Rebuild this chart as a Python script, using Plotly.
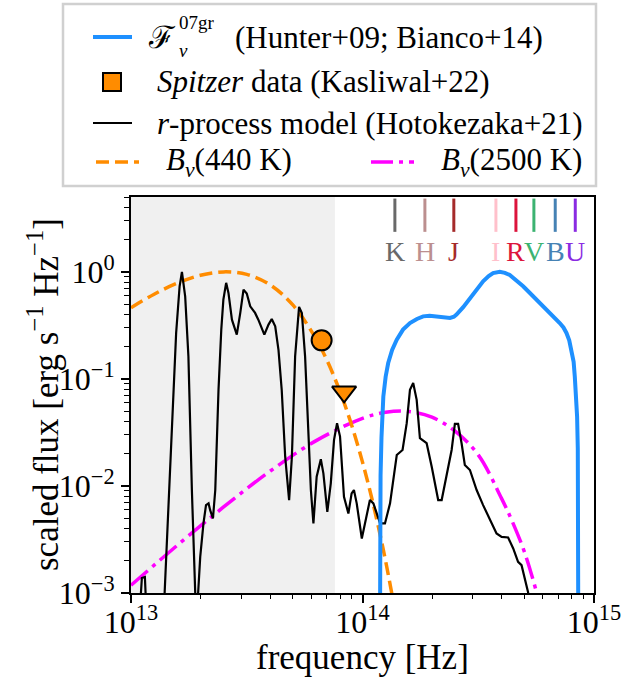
import numpy as np
import plotly.graph_objects as go

# ---------------- data ----------------
# r-process model (Hotokezaka+21): log10 frequency [Hz], log10 scaled flux
rproc_log_nu = [13.000, 13.034, 13.047, 13.060, 13.069, 13.100, 13.135, 13.155, 13.177, 13.195,
                13.210, 13.220, 13.234, 13.248, 13.263, 13.282, 13.299, 13.313, 13.324, 13.335,
                13.342, 13.354, 13.364, 13.378, 13.390, 13.399, 13.411, 13.421, 13.436, 13.457,
                13.472, 13.486, 13.500, 13.515, 13.536, 13.550, 13.576, 13.594, 13.608, 13.623,
                13.637, 13.651, 13.666, 13.683, 13.695, 13.709, 13.726, 13.738, 13.752, 13.766,
                13.777, 13.788, 13.802, 13.820, 13.831, 13.848, 13.863, 13.877, 13.890, 13.903,
                13.920, 13.939, 13.953, 13.963, 13.975, 13.997, 14.018, 14.032, 14.047, 14.076,
                14.097, 14.119, 14.148, 14.173, 14.191, 14.205, 14.219, 14.234, 14.248, 14.277,
                14.299, 14.327, 14.342, 14.363, 14.385, 14.399, 14.413, 14.428, 14.442, 14.464,
                14.493, 14.521, 14.550, 14.579, 14.601, 14.629, 14.651, 14.672, 14.687, 14.715,
                14.740]
rproc_log_flux = [-3.80, -3.30, -2.86, -2.85, -3.30, -3.80, -3.50, -2.507, -1.414, -0.571,
                  -0.135, 0.000, -0.228, -0.790, -2.038, -3.30, -2.663, -2.350, -2.179, -2.163,
                  -2.226, -2.303, -2.038, -1.102, -0.540, -0.259, -0.103, -0.197, -0.447, -0.587,
                  -0.384, -0.166, -0.203, -0.322, -0.384, -0.447, -0.587, -0.493, -0.440, -0.509,
                  -0.728, -1.102, -1.727, -2.132, -1.727, -0.790, -0.328, -0.384, -0.790, -1.414,
                  -2.038, -2.350, -1.914, -1.751, -1.882, -2.242, -1.976, -1.570, -1.414, -1.539,
                  -2.101, -2.257, -2.069, -2.038, -2.163, -2.491, -2.257, -2.132, -2.163, -2.350,
                  -2.350, -2.163, -1.711, -1.664, -1.414, -1.102, -1.039, -1.196, -1.554, -1.601,
                  -1.820, -2.132, -2.132, -1.914, -1.664, -1.420, -1.420, -1.601, -1.804, -1.851,
                  -2.038, -2.179, -2.320, -2.444, -2.476, -2.481, -2.584, -2.709, -2.740, -2.991,
                  -3.300]

# F_nu of SN 2007gr (Hunter+09; Bianco+14): log10 frequency, log10 scaled flux
gr07_log_nu = [14.0745, 14.076, 14.078, 14.082, 14.090, 14.100, 14.111, 14.128, 14.148, 14.175,
               14.205, 14.235, 14.262, 14.290, 14.320, 14.350, 14.378, 14.395, 14.406, 14.435,
               14.464, 14.493, 14.521, 14.545, 14.564, 14.593, 14.615, 14.636, 14.665, 14.694,
               14.722, 14.752, 14.780, 14.809, 14.835, 14.852, 14.868, 14.881, 14.893, 14.903,
               14.912, 14.917, 14.923, 14.927, 14.930, 14.931, 14.932, 14.933]
gr07_log_flux = [-4.00, -2.50, -1.90, -1.55, -1.165, -0.98, -0.852, -0.73, -0.634, -0.54,
                 -0.478, -0.44, -0.416, -0.41, -0.416, -0.425, -0.431, -0.42, -0.400, -0.33,
                 -0.243, -0.16, -0.088, -0.04, -0.012, 0.000, -0.01, -0.03, -0.08, -0.135,
                 -0.195, -0.259, -0.32, -0.384, -0.43, -0.478, -0.52, -0.571, -0.64, -0.727,
                 -0.84, -0.978, -1.15, -1.352, -1.65, -1.973, -2.50, -4.00]

# Blackbody B_nu(440 K), scaled to peak 1
bb440_log_nu = [13.0, 13.1, 13.2, 13.3, 13.4, 13.5, 13.6, 13.7, 13.8, 13.85,
                13.9, 13.95, 14.0, 14.05, 14.1, 14.15]
bb440_flux = [0.462, 0.618, 0.785, 0.928, 0.999, 0.947, 0.759, 0.488, 0.235, 0.1435,
              0.0790, 0.0388, 0.0167, 0.00624, 0.00198, 0.00052]

# Blackbody B_nu(2500 K), scaled to peak 0.05
bb2500_log_nu = [13.0, 13.2, 13.4, 13.6, 13.8, 14.0, 14.1, 14.2, 14.3, 14.4,
                 14.5, 14.6, 14.65, 14.7, 14.75, 14.8]
bb2500_flux = [0.00118, 0.00279, 0.00636, 0.0137, 0.0265, 0.0428, 0.0487, 0.0496, 0.0439, 0.0325,
               0.0195, 0.0077, 0.0045, 0.0024, 0.00105, 0.0004]

# Spitzer data (Kasliwal+22)
spitzer_nu = [6.66e13]          # 4.5 micron detection
spitzer_flux = [0.229]
spitzer_lim_nu = [8.33e13]      # 3.6 micron upper limit
spitzer_lim_flux = [0.0757]

# Photometric bands
band_names = ["K", "H", "J", "I", "R", "V", "B", "U"]
band_nu = [1.38e14, 1.86e14, 2.48e14, 3.77e14, 4.6e14, 5.5e14, 6.8e14, 8.3e14]
band_colors = ["#696969", "#bc8f8f", "#a52a2a", "#ffc0cb", "#dc143c", "#3cb371", "#4682b4", "#8a2be2"]

shade_nu = [1e13, 7.6e13]   # shaded Spitzer range

# ---------------- figure ----------------
FONT = "Liberation Serif, DejaVu Serif, serif"
FS_TICK = 32
FS_LEG = 31
FS_TITLE = 35
W, H = 629, 678
ML, MR, MT, MB = 131, 35, 197, 85
PW, PH = W - ML - MR, H - MT - MB


def pxx(x):
    return (x - ML) / PW


def pxy(y):
    return (H - MB - y) / PH


def tenpow(a):
    return [10.0 ** v for v in a]


fig = go.Figure()

fig.add_trace(go.Scatter(x=tenpow(bb2500_log_nu), y=bb2500_flux, mode="lines",
                         line=dict(color="#ff00ff", width=3.5, dash="22px,6px,4px,6px", shape="spline"),
                         showlegend=False, name="B_nu(2500 K)"))
fig.add_trace(go.Scatter(x=tenpow(bb440_log_nu), y=bb440_flux, mode="lines",
                         line=dict(color="#ff8c00", width=3.5, dash="13px,6px", shape="spline"),
                         showlegend=False, name="B_nu(440 K)"))
fig.add_trace(go.Scatter(x=tenpow(rproc_log_nu), y=tenpow(rproc_log_flux), mode="lines",
                         line=dict(color="black", width=2.2),
                         showlegend=False, name="r-process model"))
fig.add_trace(go.Scatter(x=tenpow(gr07_log_nu), y=tenpow(gr07_log_flux), mode="lines",
                         line=dict(color="#1e90ff", width=4),
                         showlegend=False, name="07gr"))
fig.add_trace(go.Scatter(x=spitzer_nu, y=spitzer_flux, mode="markers",
                         marker=dict(symbol="circle", size=20, color="#ff8c00",
                                     line=dict(color="black", width=2)),
                         showlegend=False, name="Spitzer", cliponaxis=False))
fig.add_trace(go.Scatter(x=spitzer_lim_nu, y=spitzer_lim_flux, mode="markers",
                         marker=dict(symbol="triangle-down", size=21, color="#ff8c00",
                                     line=dict(color="black", width=2)),
                         showlegend=False, name="Spitzer limit", cliponaxis=False))

shapes = []
annotations = []

# shaded region
shapes.append(dict(type="rect", xref="x", yref="y domain", x0=shade_nu[0], x1=shade_nu[1],
                   y0=0, y1=1, fillcolor="#f0f0f0", line=dict(width=0), layer="below"))

# band markers
for name, nu, col in zip(band_names, band_nu, band_colors):
    shapes.append(dict(type="line", xref="x", yref="y domain", x0=nu, x1=nu,
                       y0=0.912, y1=0.996, line=dict(color=col, width=3)))
    annotations.append(dict(x=np.log10(nu), xref="x", y=0.862, yref="y domain",
                            text=name, showarrow=False, xanchor="center", yanchor="middle",
                            font=dict(family=FONT, size=28, color=col)))

# ---- custom legend ----
shapes.append(dict(type="rect", xref="paper", yref="paper", x0=pxx(63), x1=pxx(596),
                   y0=pxy(186), y1=pxy(4), line=dict(color="#d0d0d0", width=2.5),
                   fillcolor="white", layer="above"))
row_y = [37, 82, 123, 162]
shapes.append(dict(type="line", xref="paper", yref="paper", x0=pxx(93), x1=pxx(132),
                   y0=pxy(row_y[0]), y1=pxy(row_y[0]), line=dict(color="#1e90ff", width=4)))
shapes.append(dict(type="rect", xref="paper", yref="paper", x0=pxx(103), x1=pxx(121),
                   y0=pxy(row_y[1] + 9), y1=pxy(row_y[1] - 9), fillcolor="#ff8c00",
                   line=dict(color="black", width=2)))
shapes.append(dict(type="line", xref="paper", yref="paper", x0=pxx(93), x1=pxx(132),
                   y0=pxy(row_y[2]), y1=pxy(row_y[2]), line=dict(color="black", width=2)))
shapes.append(dict(type="line", xref="paper", yref="paper", x0=pxx(96), x1=pxx(139),
                   y0=pxy(row_y[3]), y1=pxy(row_y[3]),
                   line=dict(color="#ff8c00", width=3.5, dash="13px,6px")))
shapes.append(dict(type="line", xref="paper", yref="paper", x0=pxx(371), x1=pxx(414),
                   y0=pxy(row_y[3]), y1=pxy(row_y[3]),
                   line=dict(color="#ff00ff", width=3.5, dash="22px,6px,4px,6px")))


def leg_text(x, y, text, size=FS_LEG):
    annotations.append(dict(x=pxx(x), y=pxy(y), xref="paper", yref="paper", text=text,
                            showarrow=False, xanchor="left", yanchor="middle",
                            borderpad=0,
                            font=dict(family=FONT, size=size, color="black")))


leg_text(147, row_y[0] + 1, "ℱ")
leg_text(178, row_y[0] + 14, "<i>ν</i>", size=19)
leg_text(178, row_y[0] - 15, "07gr", size=19)
leg_text(234, row_y[0] + 1, "(Hunter+09; Bianco+14)")
leg_text(156, row_y[1], "<i>Spitzer</i> data (Kasliwal+22)")
leg_text(156, row_y[2], "<i>r</i>-process model (Hotokezaka+21)")
leg_text(165, row_y[3], "<i>B<sub>ν</sub></i>(440 K)")
leg_text(440, row_y[3], "<i>B<sub>ν</sub></i>(2500 K)")

# axis titles
annotations.append(dict(x=pxx(43), y=0.5, xref="paper", yref="paper",
                        text="scaled flux [erg s<sup>−1</sup> Hz<sup>−1</sup>]",
                        textangle=-90, showarrow=False, xanchor="center", yanchor="middle",
                        font=dict(family=FONT, size=FS_TITLE, color="black")))
annotations.append(dict(x=0.5, y=pxy(657), xref="paper", yref="paper",
                        text="frequency [Hz]", showarrow=False, xanchor="center", yanchor="middle",
                        font=dict(family=FONT, size=FS_TITLE, color="black")))

x_major = [1e13, 1e14, 1e15]
x_minor = [m * 10.0 ** e for e in (13, 14) for m in range(2, 10)]
y_major = [1e-3, 1e-2, 1e-1, 1e0]
y_minor = [m * 10.0 ** e for e in (-3, -2, -1, 0) for m in range(2, 10)]

axis_common = dict(type="log", showline=True, linecolor="black", linewidth=1.8, mirror=True,
                   ticks="outside", ticklen=8, tickwidth=1.6, tickcolor="black",
                   showgrid=False, zeroline=False,
                   tickfont=dict(family=FONT, size=FS_TICK, color="black"))

fig.update_layout(
    width=W, height=H,
    margin=dict(l=ML, r=MR, t=MT, b=MB, autoexpand=False),
    paper_bgcolor="white", plot_bgcolor="white",
    showlegend=False,
    xaxis=dict(range=[13, 15], tickmode="array", tickvals=x_major,
               ticktext=["10<sup>13</sup>", "10<sup>14</sup>", "10<sup>15</sup>"],
               ticklabelstandoff=-8,
               minor=dict(tickmode="array", tickvals=x_minor, ticks="outside", ticklen=4,
                          tickwidth=1.4, tickcolor="black", showgrid=False),
               **axis_common),
    yaxis=dict(range=[-3, np.log10(5.0)], tickmode="array", tickvals=y_major,
               ticktext=["10<sup>−3</sup>", "10<sup>−2</sup>", "10<sup>−1</sup>", "10<sup>0</sup>"],
               minor=dict(tickmode="array", tickvals=y_minor, ticks="outside", ticklen=5,
                          tickwidth=1.4, tickcolor="black", showgrid=False),
               **axis_common),
    shapes=shapes,
    annotations=annotations,
)

fig.write_html("out.html", config={"displayModeBar": False},
               post_script="document.body.style.margin='0px';document.body.style.overflow='hidden';")
